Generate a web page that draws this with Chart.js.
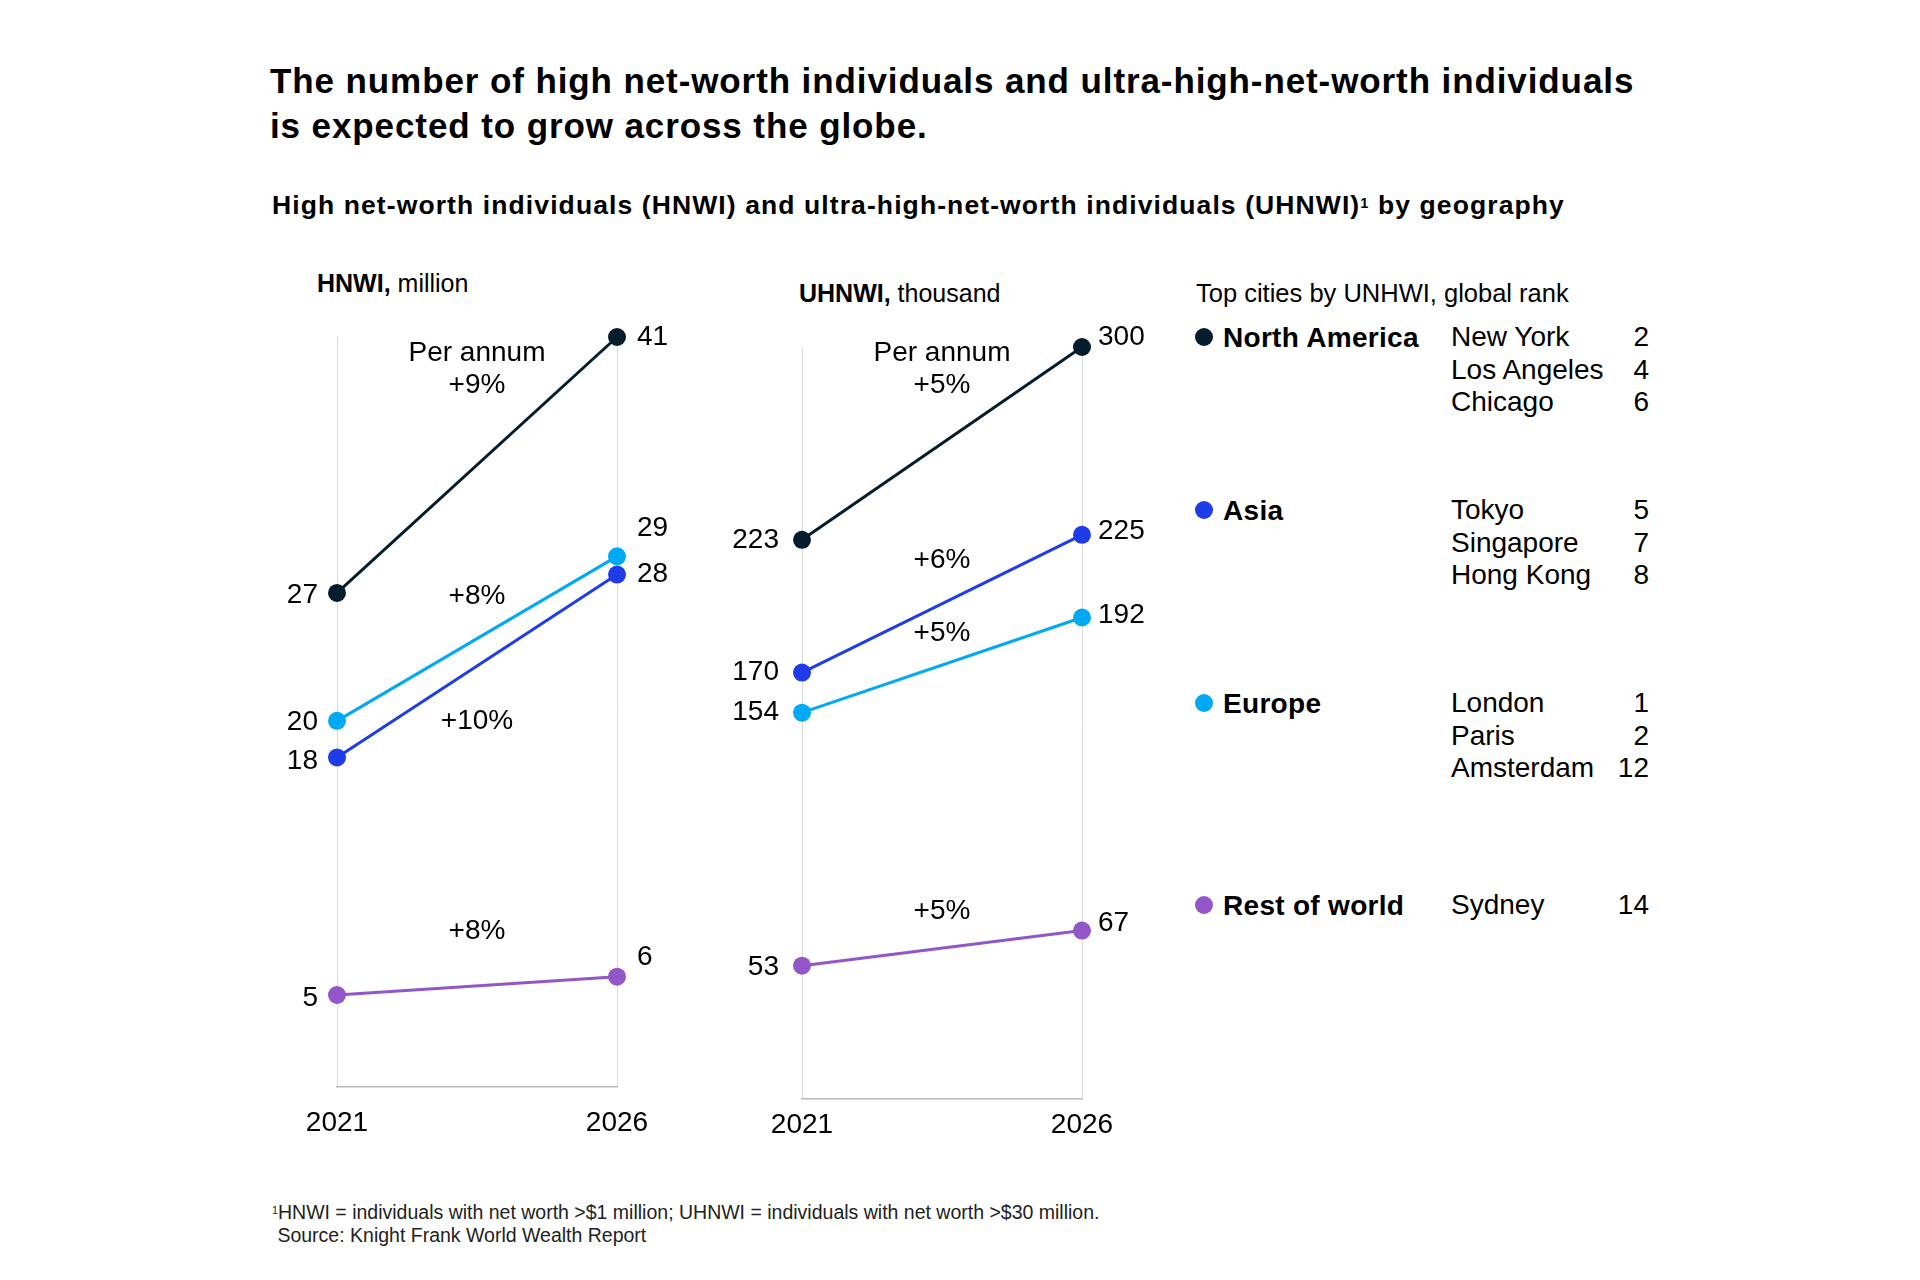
<!DOCTYPE html>
<html><head><meta charset="utf-8">
<script src="https://cdn.jsdelivr.net/npm/chart.js@4.4.1/dist/chart.umd.min.js"></script>
<style>
body{margin:0;background:#fff;width:1920px;height:1280px;position:relative;font-family:"Liberation Sans",Arial,sans-serif;color:#000;overflow:hidden}
.abs{position:absolute;white-space:nowrap}
#title{left:270px;top:58px;font-size:35px;font-weight:bold;line-height:45px;letter-spacing:0.9px}
#subtitle{left:272px;top:190px;font-size:26.5px;font-weight:bold;line-height:30px;letter-spacing:1.1px}
#subtitle sup,#foot sup{font-size:55%;vertical-align:top;position:relative;top:-2px}
.axt{font-size:25px;line-height:30px}
#hnwiT{left:317px;top:268px}
#uhnwiT{left:799px;top:278px}
#legHead{left:1196px;top:278px;font-size:25.5px;line-height:30px}
.dot{position:absolute;width:18px;height:18px;border-radius:50%}
.reg{position:absolute;font-size:28px;font-weight:bold;line-height:33px;white-space:nowrap;letter-spacing:0.3px}
.city{position:absolute;font-size:28px;line-height:32.7px;white-space:nowrap}
.rank{position:absolute;font-size:28px;line-height:32.7px;text-align:right;width:60px}
#foot{left:272px;top:1201px;font-size:19.5px;line-height:23px;color:#222}
canvas{position:absolute}
</style></head>
<body>
<div id="title" class="abs">The number of high net-worth individuals and ultra-high-net-worth individuals<br>is expected to grow across the globe.</div>
<div id="subtitle" class="abs">High net-worth individuals (HNWI) and ultra-high-net-worth individuals (UHNWI)<sup>1</sup> by geography</div>
<div id="hnwiT" class="abs axt"><b>HNWI,</b> million</div>
<div id="uhnwiT" class="abs axt"><b>UHNWI,</b> thousand</div>
<div id="legHead" class="abs">Top cities by UNHWI, global rank</div>
<div id="legend"></div>
<canvas id="c1" width="480" height="870" style="left:237px;top:300px;width:480px;height:870px"></canvas>
<canvas id="c2" width="480" height="852" style="left:702px;top:310px;width:480px;height:852px"></canvas>
<div id="foot" class="abs"><sup>1</sup>HNWI = individuals with net worth &gt;$1 million; UHNWI = individuals with net worth &gt;$30 million.<br>&nbsp;Source: Knight Frank World Wealth Report</div>
<script>
// ---- data ----
const years = ['2021', '2026'];
const regions = ['North America', 'Asia', 'Europe', 'Rest of world'];
const regionColors = ['#051c2c', '#1e3ce8', '#00a9f4', '#9256c9'];

const hnwiNorthAmerica = [27, 41];
const hnwiAsia = [18, 28];
const hnwiEurope = [20, 29];
const hnwiRestOfWorld = [5, 6];

const uhnwiNorthAmerica = [223, 300];
const uhnwiAsia = [170, 225];
const uhnwiEurope = [154, 192];
const uhnwiRestOfWorld = [53, 67];

const hnwiGrowth = ['+9%', '+10%', '+8%', '+8%'];
const uhnwiGrowth = ['+5%', '+6%', '+5%', '+5%'];
const perAnnumLabel = 'Per annum';

const topCities = [['New York', 'Los Angeles', 'Chicago'], ['Tokyo', 'Singapore', 'Hong Kong'], ['London', 'Paris', 'Amsterdam'], ['Sydney']];
const cityRanks = [[2, 4, 6], [5, 7, 8], [1, 2, 12], [14]];

// ---- layout (positions only) ----
const FONT = '"Liberation Sans", Arial, sans-serif';
const hnwiLayout = {
  max: 41, tickPad: 20,
  gapLeft: 19, gapRight: 20,
  offsets: [[2, 0], [4, 0], [1, -28], [3, -19]],
  growthAt: [39.25, 20.0, 26.8, 8.5]
};
const uhnwiLayout = {
  max: 300, tickPad: 10,
  gapLeft: 23, gapRight: 16,
  offsets: [[0, -10], [0, -4], [0, -2], [2, -7]],
  growthAt: [291.2, 214.8, 185.6, 74.8]
};
const legendRowY = [337, 510, 703, 905];

// ---- legend ----
const leg = document.getElementById('legend');
regions.forEach((r, i) => {
  const cy = legendRowY[i];
  const d = document.createElement('div'); d.className = 'dot';
  d.style.left = (1204 - 9) + 'px'; d.style.top = (cy - 9) + 'px'; d.style.background = regionColors[i];
  leg.appendChild(d);
  const n = document.createElement('div'); n.className = 'reg'; n.textContent = r;
  n.style.left = '1223px'; n.style.top = (cy - 16) + 'px';
  leg.appendChild(n);
  topCities[i].forEach((c, k) => {
    const ce = document.createElement('div'); ce.className = 'city'; ce.textContent = c;
    ce.style.left = '1451px'; ce.style.top = (cy - 16 + k * 32.7) + 'px';
    leg.appendChild(ce);
    const re = document.createElement('div'); re.className = 'rank'; re.textContent = cityRanks[i][k];
    re.style.left = (1649 - 60) + 'px'; re.style.top = (cy - 16 + k * 32.7) + 'px';
    leg.appendChild(re);
  });
});

// ---- label plugin ----
const slopeLabels = {
  id: 'slopeLabels',
  afterDraw(chart, args, opts) {
    const { ctx, chartArea, scales: { y } } = chart;
    ctx.save();
    ctx.font = '28px ' + FONT;
    ctx.fillStyle = '#000';
    ctx.textBaseline = 'middle';
    chart.data.datasets.forEach((ds, i) => {
      const meta = chart.getDatasetMeta(i);
      meta.data.forEach((pt, j) => {
        const txt = String(ds.data[j]);
        const dy = opts.offsets[i][j];
        if (j === 0) { ctx.textAlign = 'right'; ctx.fillText(txt, pt.x - opts.gapLeft, pt.y + dy); }
        else { ctx.textAlign = 'left'; ctx.fillText(txt, pt.x + opts.gapRight, pt.y + dy); }
      });
      const lines = i === 0 ? [perAnnumLabel, opts.growth[i]] : [opts.growth[i]];
      const cx = (chartArea.left + chartArea.right) / 2;
      const cy = y.getPixelForValue(opts.growthAt[i]);
      ctx.textAlign = 'center';
      lines.forEach((l, k) => ctx.fillText(l, cx, cy + (k - (lines.length - 1) / 2) * 32));
    });
    ctx.restore();
  }
};

function makeChart(id, series, growth, lay) {
  return new Chart(document.getElementById(id), {
    type: 'line',
    data: {
      labels: years,
      datasets: series.map((s, i) => ({
        data: s, borderColor: regionColors[i], backgroundColor: regionColors[i],
        pointBackgroundColor: regionColors[i], borderWidth: 3, pointRadius: 9, pointBorderWidth: 0,
        tension: 0, clip: false
      }))
    },
    options: {
      responsive: false, animation: false, devicePixelRatio: 1,
      layout: { padding: { top: 37, left: 100, right: 100, bottom: 10 } },
      plugins: {
        legend: { display: false }, tooltip: { enabled: false },
        slopeLabels: { offsets: lay.offsets, gapLeft: lay.gapLeft, gapRight: lay.gapRight, growthAt: lay.growthAt, growth: growth }
      },
      scales: {
        x: {
          type: 'category', offset: false,
          grid: { color: '#dadada', lineWidth: 1, drawTicks: false },
          border: { color: '#b8b8b8', width: 1.5 },
          ticks: { font: { size: 28, family: FONT }, color: '#000', padding: lay.tickPad, maxRotation: 0, autoSkip: false }
        },
        y: { display: false, min: 0, max: lay.max }
      }
    },
    plugins: [slopeLabels]
  });
}

makeChart('c1', [hnwiNorthAmerica, hnwiAsia, hnwiEurope, hnwiRestOfWorld], hnwiGrowth, hnwiLayout);
makeChart('c2', [uhnwiNorthAmerica, uhnwiAsia, uhnwiEurope, uhnwiRestOfWorld], uhnwiGrowth, uhnwiLayout);
</script>
</body></html>
